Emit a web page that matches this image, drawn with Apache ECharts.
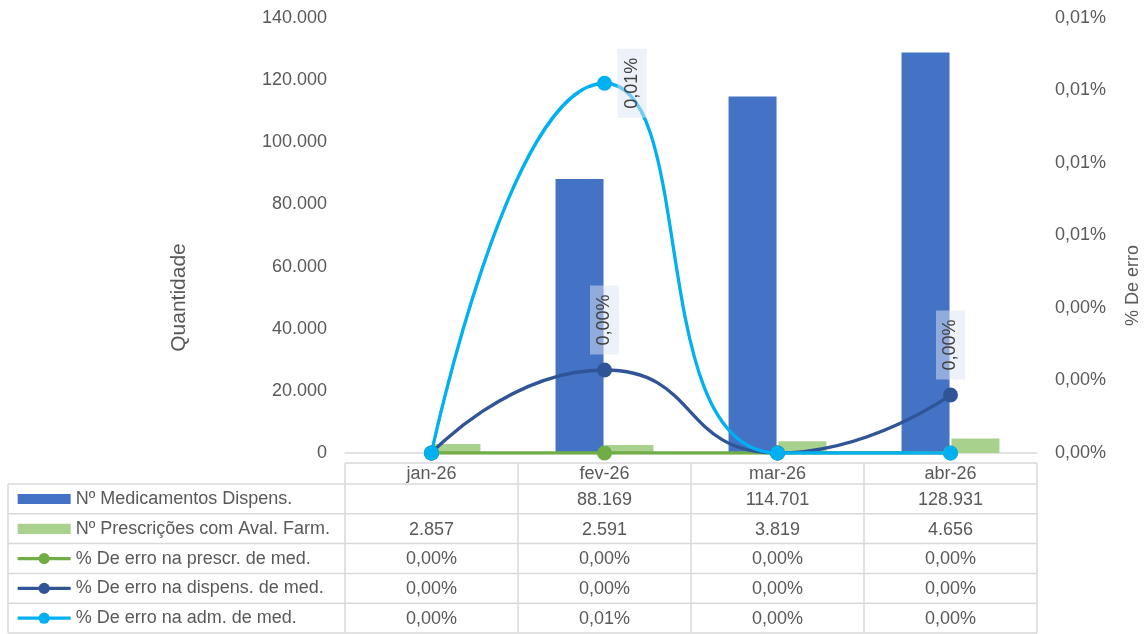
<!DOCTYPE html>
<html><head><meta charset="utf-8">
<script src="https://cdn.jsdelivr.net/npm/echarts@6/dist/echarts.min.js"></script>
<style>html,body{margin:0;padding:0;background:#fff}#c{width:1147px;height:634px}</style>
</head><body><div id="c"></div>
<script>
// ---- data ----
const categories = ['jan-26', 'fev-26', 'mar-26', 'abr-26'];
const medDispens = [null, 88169, 114701, 128931];
const prescAval = [2857, 2591, 3819, 4656];
const erroPrescr = [0, 0, 0, 0];
const erroDispens = [0, 0.0000229, 0, 0.0000160];
const erroAdm = [0, 0.000102, 0, 0];
const seriesNames = [
  'Nº Medicamentos Dispens.',
  'Nº Prescrições com Aval. Farm.',
  '% De erro na prescr. de med.',
  '% De erro na dispens. de med.',
  '% De erro na adm. de med.'
];
const leftAxisName = 'Quantidade';
const rightAxisName = '% De erro';
const leftMax = 140000, leftStep = 20000;
const rightMax = 0.00012, rightStep = 0.00002;

// ---- formatting ----
const FONT = "'Liberation Sans', Arial, sans-serif";
const TXT = '#595959';
function fmtNum(v) {
  if (v === null || v === undefined) return '';
  return String(Math.round(v)).replace(/\B(?=(\d{3})+(?!\d))/g, '.');
}
function fmtPct(v) {
  if (v === null || v === undefined) return '';
  return (v * 100).toFixed(2).replace('.', ',') + '%';
}

const GRID = { left: 345, right: 110, top: 18, bottom: 181, outerBoundsMode: 'none', containLabel: false };
const colors = ['#4472C4', '#A9D18E', '#70AD47', '#2F5597', '#00B0F0'];

const labelBase = {
  rotate: 90, fontSize: 18, fontFamily: FONT, color: '#404040',
  backgroundColor: 'rgba(220,228,243,0.5)', padding: [6, 9, 5, 9],
  formatter: p => fmtPct(p.value)
};
function lineData(arr) {
  return arr.map(v => ({ value: v, label: { show: v > 0 } }));
}
function lineSeries(idx, arr, labelOpt, z) {
  return {
    name: seriesNames[idx], type: 'line', yAxisIndex: 1, z: z,
    data: lineData(arr), smooth: 0.55, smoothConstraint: false,
    symbol: 'circle', symbolSize: 15, showAllSymbol: true,
    lineStyle: { color: colors[idx], width: 3.3 },
    itemStyle: { color: colors[idx] },
    label: Object.assign({}, labelBase, labelOpt),
    emphasis: { disabled: true }
  };
}

const chart = echarts.init(document.getElementById('c'), null, { renderer: 'canvas' });
const legendLine = i => ({ name: seriesNames[i], lineStyle: { width: 3.3, color: colors[i] } });
const option = {
  animation: false,
  color: colors,
  textStyle: { fontFamily: FONT },
  grid: GRID,
  legend: {
    orient: 'vertical', left: 16, top: 489, padding: 0,
    itemWidth: 53, itemHeight: 14, itemGap: 9.8,
    textStyle: { fontSize: 18, color: TXT, fontFamily: FONT, lineHeight: 20 },
    data: [
      { name: seriesNames[0], icon: 'path://M0,2H52V12H0Z' },
      { name: seriesNames[1], icon: 'path://M0,2H52V12H0Z' },
      legendLine(2), legendLine(3), legendLine(4)
    ],
    selectedMode: false
  },
  xAxis: {
    type: 'category', data: categories,
    axisLine: { lineStyle: { color: '#D9D9D9', width: 1.5 } },
    axisTick: { show: false },
    axisLabel: { fontSize: 18, color: TXT, fontFamily: FONT, margin: 12 }
  },
  yAxis: [
    {
      type: 'value', min: 0, max: leftMax, interval: leftStep,
      name: leftAxisName, nameLocation: 'middle', nameRotate: 90, nameGap: 155,
      nameTextStyle: { fontSize: 21, color: TXT, fontFamily: FONT, padding: [0, 124, 0, 0] },
      axisLine: { show: false }, axisTick: { show: false }, splitLine: { show: false },
      axisLabel: { fontSize: 18, color: TXT, fontFamily: FONT, margin: 18, formatter: fmtNum }
    },
    {
      type: 'value', min: 0, max: rightMax, interval: rightStep,
      name: rightAxisName, nameLocation: 'middle', nameRotate: 90, nameGap: 87,
      nameTextStyle: { fontSize: 18, color: TXT, fontFamily: FONT, padding: [0, 100, 0, 0] },
      axisLine: { show: false }, axisTick: { show: false }, splitLine: { show: false },
      axisLabel: { fontSize: 18, color: TXT, fontFamily: FONT, margin: 18, formatter: fmtPct }
    }
  ],
  series: [
    { name: seriesNames[0], type: 'bar', data: medDispens, barWidth: 48, barGap: '4%',
      itemStyle: { color: colors[0] }, emphasis: { disabled: true } },
    { name: seriesNames[1], type: 'bar', data: prescAval, barWidth: 48,
      itemStyle: { color: colors[1] }, emphasis: { disabled: true } },
    lineSeries(2, erroPrescr, { show: false }, 3),
    lineSeries(3, erroDispens, { position: 'top', distance: 8, align: 'left', verticalAlign: 'middle' }, 4),
    lineSeries(4, erroAdm, { position: 'right', distance: 20, align: 'center', verticalAlign: 'middle' }, 5)
  ]
};
chart.setOption(option);

// ---- data table drawn below the plot ----
const centers = categories.map(c => chart.convertToPixel({ xAxisIndex: 0 }, c));
const cellW = centers[1] - centers[0];
const tblLeft = 8;
const colLeft = centers[0] - cellW / 2;
const colRight = centers[centers.length - 1] + cellW / 2;
const headTop = 463, rowTop = 484, rowH = 29.8;
const rows = [
  { vals: medDispens, f: fmtNum },
  { vals: prescAval, f: fmtNum },
  { vals: erroPrescr, f: fmtPct },
  { vals: erroDispens, f: fmtPct },
  { vals: erroAdm, f: fmtPct }
];
const g = [];
const ln = (x1, y1, x2, y2) => g.push({ type: 'line', silent: true, z: 1,
  shape: { x1, y1, x2, y2 }, style: { stroke: '#D9D9D9', lineWidth: 1.5 } });
const tableBottom = rowTop + rowH * rows.length;
ln(colLeft, headTop, colRight, headTop);
for (let r = 0; r <= rows.length; r++) ln(tblLeft, rowTop + r * rowH, colRight, rowTop + r * rowH);
ln(tblLeft, rowTop, tblLeft, tableBottom);
for (let i = 0; i <= categories.length; i++) ln(colLeft + i * cellW, headTop, colLeft + i * cellW, tableBottom);
rows.forEach((row, r) => {
  row.vals.forEach((v, i) => {
    g.push({ type: 'text', silent: true, z: 2, x: centers[i], y: rowTop + r * rowH + rowH / 2 + 1,
      style: { text: row.f(v), fill: TXT, font: '18px ' + FONT, align: 'center', verticalAlign: 'middle' } });
  });
});
chart.setOption({ graphic: g });
</script>
</body></html>
